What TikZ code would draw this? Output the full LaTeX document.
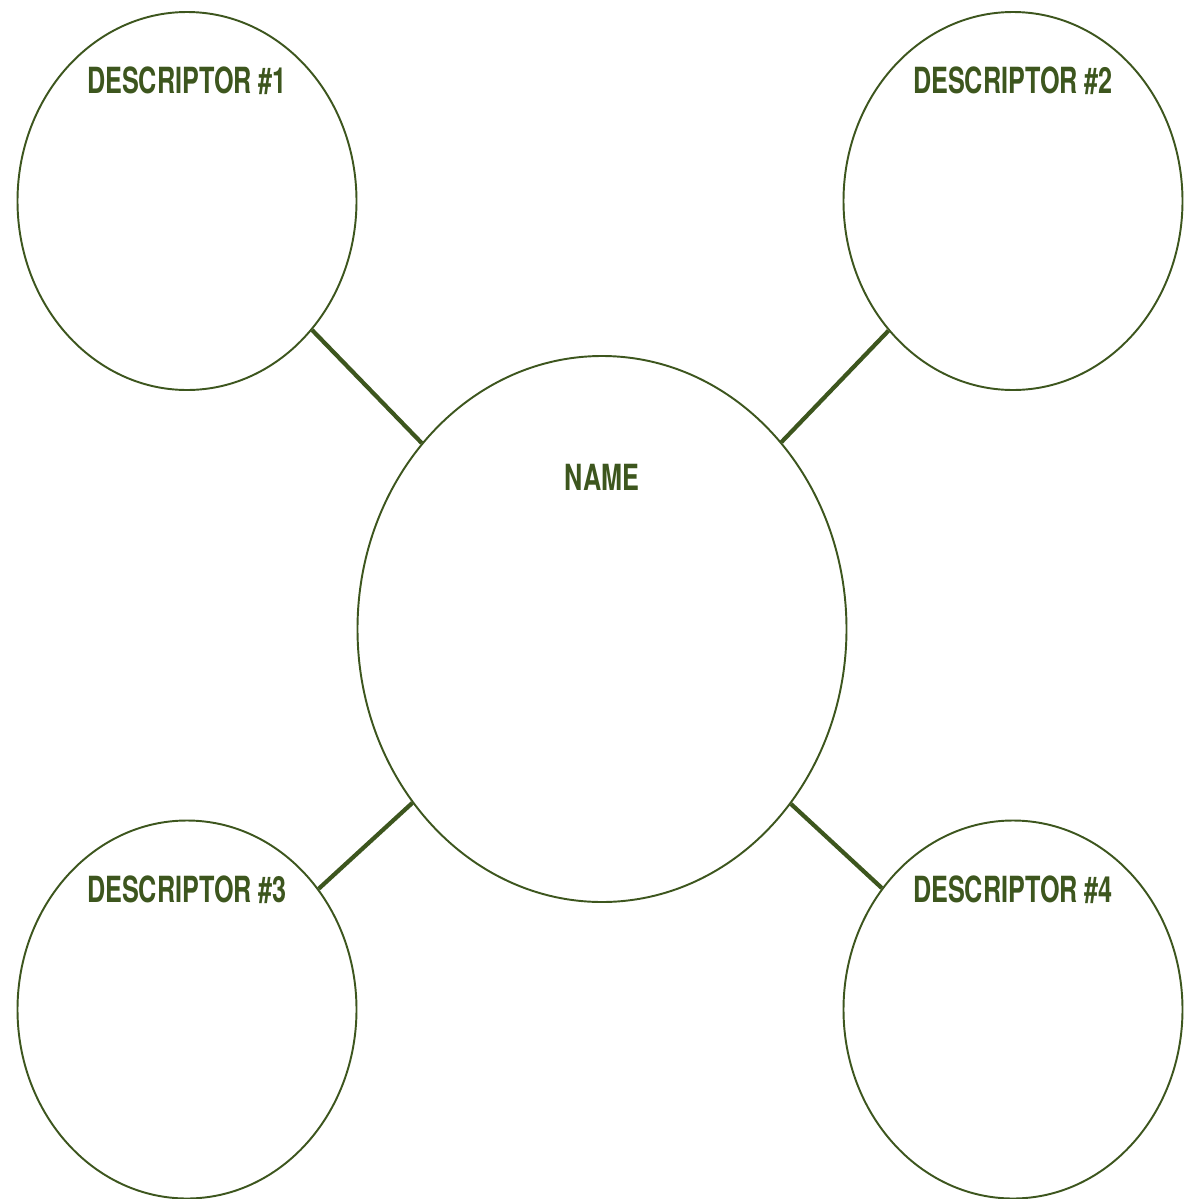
\documentclass[tikz,border=0pt]{standalone}
\usepackage{fontspec}
\setmainfont{TeX Gyre Heros}[FakeStretch=0.70]
\usepackage{tikz}
\usetikzlibrary{shapes.geometric, positioning}
\usepackage{xcolor}
\definecolor{leaf}{RGB}{61,86,30}

\begin{document}
\begin{tikzpicture}[font=\fontsize{20.5}{24}\selectfont\bfseries,
  d/.style={draw=leaf, line width=1.1pt, ellipse, inner sep=0pt, minimum width=6.78cm, minimum height=7.56cm},
  hub/.style={d, minimum width=9.78cm, minimum height=10.92cm},
  t/.style={text=leaf, inner sep=0pt},
  c/.style={draw=leaf, line width=2.4pt}]
  \useasboundingbox (0,0) rectangle (23.68,-23.98);
  \node[d] (d1) at (3.74,-4.02) {};
  \node[d] (d2) at (20.26,-4.02) {};
  \node[d] (d3) at (3.74,-20.19) {};
  \node[d] (d4) at (20.26,-20.19) {};
  \node[hub] (nm) at (12.04,-12.58) {};
  \node[t, below=1.4cm of d1.north, anchor=center] (t1) {DESCRIPTOR \#1};
  \node[t, below=1.4cm of d2.north, anchor=center] (t2) {DESCRIPTOR \#2};
  \node[t, below=1.4cm of d3.north, anchor=center] (t3) {DESCRIPTOR \#3};
  \node[t, below=1.4cm of d4.north, anchor=center] (t4) {DESCRIPTOR \#4};
  \node[t, below=2.45cm of nm.north, anchor=center] (tn) {NAME};
  \draw[c] (d1) -- (nm);
  \draw[c] (d2) -- (nm);
  \draw[c] (d3) -- (nm);
  \draw[c] (d4) -- (nm);
\end{tikzpicture}
\end{document}
